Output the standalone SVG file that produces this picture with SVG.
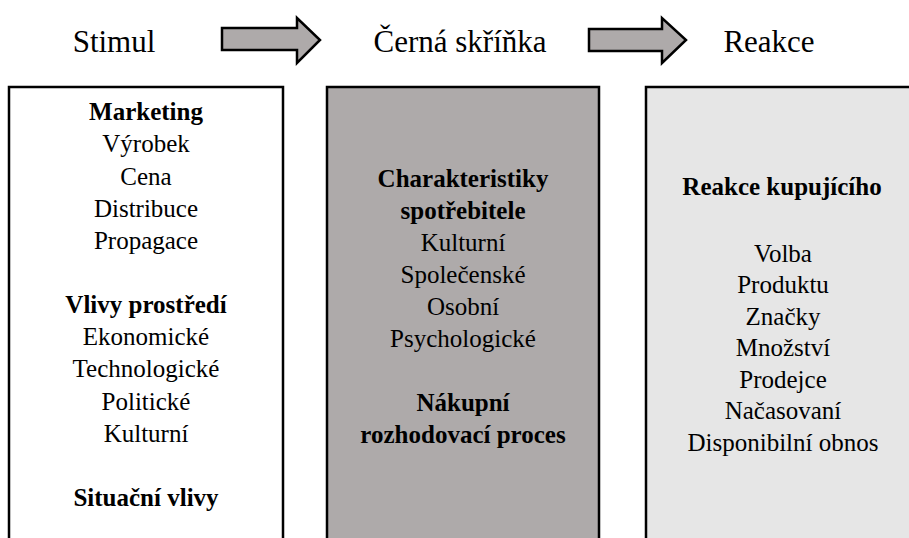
<svg xmlns="http://www.w3.org/2000/svg" width="909" height="538" viewBox="0 0 909 538">
<rect width="909" height="538" fill="#fff"/>
<g id="connectors">
<polygon points="222,28 297,28 297,18 320,40 297,63 297,50 222,50" fill="#aeaaaa" stroke="#000" stroke-width="2.5"/>
<polygon points="589,29 662,29 662,18 686,40 662,63 662,51 589,51" fill="#aeaaaa" stroke="#000" stroke-width="2.5"/>
</g>
<g id="hdr-stimul"><text style="font-family:'Liberation Serif','Times New Roman',serif;font-size:31px;text-anchor:middle" x="114" y="52">Stimul</text></g>
<g id="hdr-cerna"><text style="font-family:'Liberation Serif','Times New Roman',serif;font-size:31px;text-anchor:middle" x="460" y="52">Černá skříňka</text></g>
<g id="hdr-reakce"><text style="font-family:'Liberation Serif','Times New Roman',serif;font-size:31px;text-anchor:middle" x="769" y="52">Reakce</text></g>
<g id="box-stimul">
<rect x="9" y="87" width="274" height="470" fill="#fff" stroke="#000" stroke-width="2.5"/>
<text style="font-family:'Liberation Serif','Times New Roman',serif;font-size:25px;font-weight:bold;text-anchor:middle" x="146" y="120">Marketing</text>
<text style="font-family:'Liberation Serif','Times New Roman',serif;font-size:25px;text-anchor:middle" x="146" y="152">Výrobek</text>
<text style="font-family:'Liberation Serif','Times New Roman',serif;font-size:25px;text-anchor:middle" x="146" y="185">Cena</text>
<text style="font-family:'Liberation Serif','Times New Roman',serif;font-size:25px;text-anchor:middle" x="146" y="217">Distribuce</text>
<text style="font-family:'Liberation Serif','Times New Roman',serif;font-size:25px;text-anchor:middle" x="146" y="249">Propagace</text>
<text style="font-family:'Liberation Serif','Times New Roman',serif;font-size:25px;font-weight:bold;text-anchor:middle" x="146" y="313">Vlivy prostředí</text>
<text style="font-family:'Liberation Serif','Times New Roman',serif;font-size:25px;text-anchor:middle" x="146" y="345">Ekonomické</text>
<text style="font-family:'Liberation Serif','Times New Roman',serif;font-size:25px;text-anchor:middle" x="146" y="377">Technologické</text>
<text style="font-family:'Liberation Serif','Times New Roman',serif;font-size:25px;text-anchor:middle" x="146" y="410">Politické</text>
<text style="font-family:'Liberation Serif','Times New Roman',serif;font-size:25px;text-anchor:middle" x="146" y="442">Kulturní</text>
<text style="font-family:'Liberation Serif','Times New Roman',serif;font-size:25px;font-weight:bold;text-anchor:middle" x="146" y="506">Situační vlivy</text>
</g>
<g id="box-cerna">
<rect x="327" y="87" width="272" height="470" fill="#aeaaaa" stroke="#000" stroke-width="2.5"/>
<text style="font-family:'Liberation Serif','Times New Roman',serif;font-size:25px;font-weight:bold;text-anchor:middle" x="463" y="187">Charakteristiky</text>
<text style="font-family:'Liberation Serif','Times New Roman',serif;font-size:25px;font-weight:bold;text-anchor:middle" x="463" y="219">spotřebitele</text>
<text style="font-family:'Liberation Serif','Times New Roman',serif;font-size:25px;text-anchor:middle" x="463" y="251">Kulturní</text>
<text style="font-family:'Liberation Serif','Times New Roman',serif;font-size:25px;text-anchor:middle" x="463" y="283">Společenské</text>
<text style="font-family:'Liberation Serif','Times New Roman',serif;font-size:25px;text-anchor:middle" x="463" y="315">Osobní</text>
<text style="font-family:'Liberation Serif','Times New Roman',serif;font-size:25px;text-anchor:middle" x="463" y="347">Psychologické</text>
<text style="font-family:'Liberation Serif','Times New Roman',serif;font-size:25px;font-weight:bold;text-anchor:middle" x="463" y="411">Nákupní</text>
<text style="font-family:'Liberation Serif','Times New Roman',serif;font-size:25px;font-weight:bold;text-anchor:middle" x="463" y="443">rozhodovací proces</text>
</g>
<g id="box-reakce">
<rect x="646" y="87" width="290" height="470" fill="#e6e6e6" stroke="#000" stroke-width="2.5"/>
<text style="font-family:'Liberation Serif','Times New Roman',serif;font-size:25px;font-weight:bold;text-anchor:middle" x="782" y="195">Reakce kupujícího</text>
<text style="font-family:'Liberation Serif','Times New Roman',serif;font-size:25px;text-anchor:middle" x="783" y="262">Volba</text>
<text style="font-family:'Liberation Serif','Times New Roman',serif;font-size:25px;text-anchor:middle" x="783" y="293">Produktu</text>
<text style="font-family:'Liberation Serif','Times New Roman',serif;font-size:25px;text-anchor:middle" x="783" y="325">Značky</text>
<text style="font-family:'Liberation Serif','Times New Roman',serif;font-size:25px;text-anchor:middle" x="783" y="356">Množství</text>
<text style="font-family:'Liberation Serif','Times New Roman',serif;font-size:25px;text-anchor:middle" x="783" y="388">Prodejce</text>
<text style="font-family:'Liberation Serif','Times New Roman',serif;font-size:25px;text-anchor:middle" x="783" y="419">Načasovaní</text>
<text style="font-family:'Liberation Serif','Times New Roman',serif;font-size:25px;text-anchor:middle" x="783" y="451">Disponibilní obnos</text>
</g>
</svg>
